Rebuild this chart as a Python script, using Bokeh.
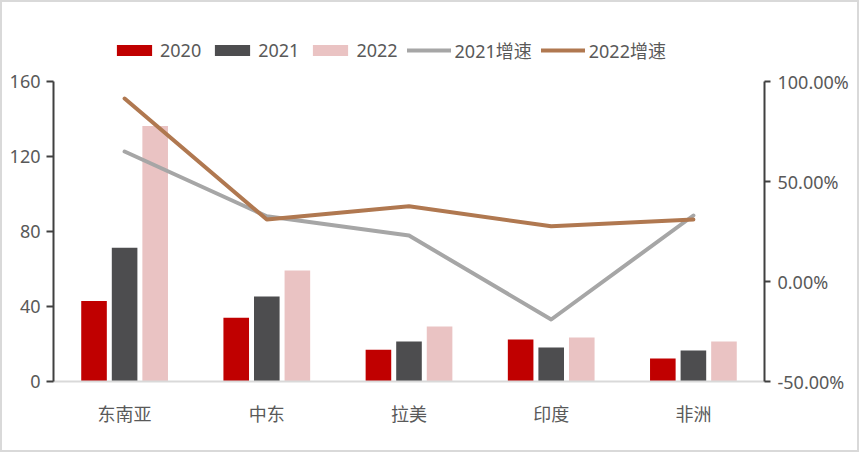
from bokeh.plotting import figure
from bokeh.models import (ColumnDataSource, FactorRange, Range1d, LinearAxis, FixedTicker,
                          NumeralTickFormatter, Legend, LegendItem)
from bokeh.transform import dodge
from bokeh.embed import file_html
from bokeh.resources import INLINE

categories = ["东南亚", "中东", "拉美", "印度", "非洲"]
v2020 = [43.0, 34.0, 17.0, 22.4, 12.3]
v2021 = [71.3, 45.3, 21.3, 18.1, 16.5]
v2022 = [136.3, 59.2, 29.3, 23.5, 21.3]
g2021 = [0.65, 0.326, 0.23, -0.19, 0.33]
g2022 = [0.915, 0.31, 0.376, 0.276, 0.31]
left_ticks = [0, 40, 80, 120, 160]
right_ticks = [-0.5, 0.0, 0.5, 1.0]

FONT = "Noto Sans, Noto Sans CJK SC"
TXT = "#595959"

# frame spans the plot area plus a band above it for the legend
PLOT_H = 300      # pixel height of the value area
BAND_H = 61       # extra pixel band above it that holds the legend
ext = (PLOT_H + BAND_H) / PLOT_H

lmin, lmax = left_ticks[0], left_ticks[-1]
rmin, rmax = right_ticks[0], right_ticks[-1]

src = ColumnDataSource(dict(cat=categories, v2020=v2020, v2021=v2021, v2022=v2022,
                            g2021=g2021, g2022=g2022))

p = figure(x_range=FactorRange(*categories),
           y_range=Range1d(lmin, lmin + (lmax - lmin) * ext),
           width=859, height=452, output_backend="svg", toolbar_location=None,
           min_border_left=53, min_border_right=95, min_border_top=81 - BAND_H,
           min_border_bottom=71, outline_line_color=None)
p.extra_y_ranges = {"pct": Range1d(rmin, rmin + (rmax - rmin) * ext)}
p.xgrid.visible = False
p.ygrid.visible = False

bw = 0.18
r1 = p.vbar(x=dodge("cat", -0.215, range=p.x_range), top="v2020", width=bw, source=src,
            fill_color="#c00000", line_color=None)
r2 = p.vbar(x=dodge("cat", 0.0, range=p.x_range), top="v2021", width=bw, source=src,
            fill_color="#4d4d4f", line_color=None)
r3 = p.vbar(x=dodge("cat", 0.215, range=p.x_range), top="v2022", width=bw, source=src,
            fill_color="#eac3c3", line_color=None)
l1 = p.line(x="cat", y="g2021", source=src, y_range_name="pct", line_color="#a6a6a6",
            line_width=4, line_cap="round", line_join="round")
l2 = p.line(x="cat", y="g2022", source=src, y_range_name="pct", line_color="#b07850",
            line_width=4, line_cap="round", line_join="round")

# left axis
ya = p.yaxis[0]
ya.ticker = FixedTicker(ticks=left_ticks)
ya.bounds = (lmin, lmax)
ya.axis_line_color = "#404040"
ya.axis_line_width = 2
ya.major_tick_line_color = "#404040"
ya.major_tick_line_width = 2
ya.major_tick_out = 7
ya.major_tick_in = 0
ya.minor_tick_line_color = None
ya.major_label_standoff = 6
ya.major_label_text_font = FONT
ya.major_label_text_font_size = "18px"
ya.major_label_text_color = TXT

# right axis
ra = LinearAxis(y_range_name="pct", ticker=FixedTicker(ticks=right_ticks),
                formatter=NumeralTickFormatter(format="0.00%"), bounds=(rmin, rmax))
ra.axis_line_color = "#404040"
ra.axis_line_width = 2
ra.major_tick_line_color = "#404040"
ra.major_tick_line_width = 2
ra.major_tick_out = 6
ra.major_tick_in = 0
ra.minor_tick_line_color = None
ra.major_label_standoff = 7
ra.major_label_text_font = FONT
ra.major_label_text_font_size = "18px"
ra.major_label_text_color = TXT
p.add_layout(ra, "right")

# x axis
xa = p.xaxis[0]
xa.axis_line_color = "#d9d9d9"
xa.axis_line_width = 2
xa.major_tick_line_color = None
xa.minor_tick_line_color = None
xa.major_label_standoff = 14
xa.major_label_text_font = FONT
xa.major_label_text_font_size = "18px"
xa.major_label_text_color = TXT

legend = Legend(items=[
    LegendItem(label="2020", renderers=[r1]),
    LegendItem(label="2021", renderers=[r2]),
    LegendItem(label="2022", renderers=[r3]),
    LegendItem(label="2021增速", renderers=[l1]),
    LegendItem(label="2022增速", renderers=[l2]),
], orientation="horizontal", location=(59, 318), glyph_width=44, glyph_height=14,
    label_standoff=4, spacing=9, padding=0, margin=0, border_line_color=None,
    background_fill_alpha=0, label_text_font=FONT, label_text_font_size="18px",
    label_text_color=TXT, label_height=20)
p.add_layout(legend, "center")

template = """
{% block postamble %}
<style>
html, body { margin: 0; padding: 0; overflow: hidden; }
body::after { content: ""; position: fixed; left: 0; top: 0; width: 859px; height: 452px;
  box-sizing: border-box; border: 2px solid #d9d9d9; pointer-events: none; }
</style>
{% endblock %}
"""
open("out.html", "w").write(file_html(p, INLINE, template=template))
